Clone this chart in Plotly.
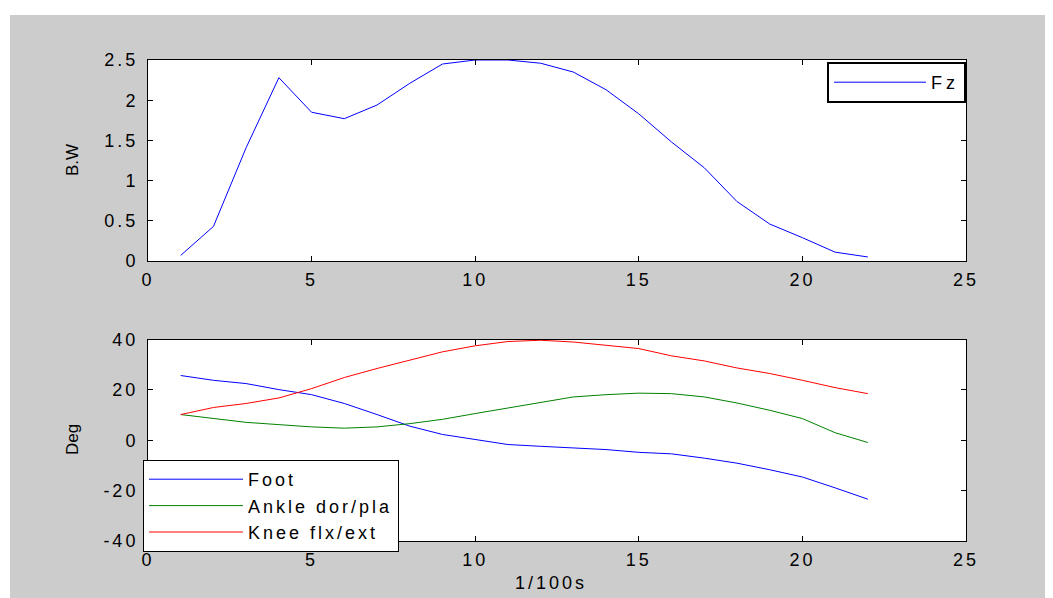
import plotly.graph_objects as go

frames = list(range(1, 23))
fz = [0.07, 0.43, 1.41, 2.28, 1.85, 1.77, 1.94, 2.21, 2.45, 2.50, 2.50,
      2.46, 2.35, 2.13, 1.83, 1.48, 1.16, 0.74, 0.46, 0.29, 0.11, 0.05]
foot = [25.7, 23.8, 22.5, 20.1, 18.1, 14.6, 10.2, 5.6, 2.3, 0.3, -1.7,
        -2.4, -3.0, -3.7, -4.8, -5.4, -7.1, -9.1, -11.7, -14.6, -18.9, -23.4]
ankle = [10.2, 8.6, 7.1, 6.2, 5.3, 4.8, 5.3, 6.6, 8.3, 10.6, 12.8,
         15.2, 17.2, 18.1, 18.7, 18.5, 17.2, 14.8, 11.9, 8.6, 3.0, -0.9]
knee = [10.2, 13.0, 14.6, 16.8, 20.5, 24.9, 28.5, 31.8, 35.1, 37.5, 39.2,
        39.7, 39.0, 37.7, 36.4, 33.5, 31.5, 28.7, 26.5, 23.8, 20.9, 18.5]

x_tick_vals = [0, 5, 10, 15, 20, 25]
x_tick_text = ["0", "5", "10", "15", "20", "25"]
fz_tick_vals = [0, 0.5, 1, 1.5, 2, 2.5]
fz_tick_text = ["0", "0.5", "1", "1.5", "2", "2.5"]
deg_tick_vals = [-40, -20, 0, 20, 40]
deg_tick_text = ["-40", "-20", "0", "20", "40"]

# page has an 8px body margin; work in page pixel coordinates
OX, OY = 8, 8
PAGE_W, PAGE_H = 1053, 598
W, H = PAGE_W - OX, PAGE_H - OY
PL, PR, PT, PB = 148, 966, 60, 541        # plot area in page px
L, R, T, B = PL - OX, PAGE_W - PR, PT - OY, PAGE_H - PB
pw, ph = W - L - R, H - T - B


def px_x(x):
    return (x - PL) / pw


def px_y(y):
    return (PB - y) / ph


def spaced(s, px=3):
    return '<span style="letter-spacing:%dpx">%s</span>' % (px, s)


fig = go.Figure()
fig.add_trace(go.Scatter(x=frames, y=fz, mode="lines", name=spaced("Fz", 4), xaxis="x", yaxis="y",
                         line=dict(color="#0000FF", width=1), legend="legend"))
fig.add_trace(go.Scatter(x=frames, y=foot, mode="lines", name=spaced("Foot"), xaxis="x2", yaxis="y2",
                         line=dict(color="#0000FF", width=1), legend="legend2"))
fig.add_trace(go.Scatter(x=frames, y=ankle, mode="lines", name=spaced("Ankle dor/pla"), xaxis="x2", yaxis="y2",
                         line=dict(color="#008000", width=1), legend="legend2"))
fig.add_trace(go.Scatter(x=frames, y=knee, mode="lines", name=spaced("Knee flx/ext"), xaxis="x2", yaxis="y2",
                         line=dict(color="#FF0000", width=1), legend="legend2"))

font = dict(family="Liberation Sans, Arial, sans-serif", color="black")
axis_common = dict(showline=True, linecolor="black", linewidth=1, mirror="ticks",
                   ticks="inside", ticklen=5, tickcolor="black", showgrid=False,
                   zeroline=False, tickfont=dict(size=18, **font))
xcommon = dict(ticklabelstandoff=2, tickmode="array", tickvals=x_tick_vals,
               ticktext=[spaced(t) for t in x_tick_text], **axis_common)
ycommon = dict(ticklabelstandoff=5, **axis_common)

fig.update_layout(
    width=W, height=H,
    margin=dict(l=L, r=R, t=T, b=B, pad=0),
    paper_bgcolor="#CCCCCC", plot_bgcolor="white",
    font=font,
    xaxis=dict(domain=[0, 1], range=[0, 25], anchor="y", **xcommon),
    yaxis=dict(domain=[px_y(261), 1], range=[0, 2.5], anchor="x", tickmode="array",
               tickvals=fz_tick_vals, ticktext=[spaced(t) for t in fz_tick_text], **ycommon),
    xaxis2=dict(domain=[0, 1], range=[0, 25], anchor="y2", **xcommon),
    yaxis2=dict(domain=[0, px_y(339.5)], range=[-40, 40], anchor="x2", tickmode="array",
                tickvals=deg_tick_vals, ticktext=[spaced(t) for t in deg_tick_text], **ycommon),
    legend=dict(x=1, xanchor="right", y=px_y(62), yanchor="top",
                bgcolor="white", bordercolor="black", borderwidth=2,
                font=dict(size=18, **font), itemwidth=92),
    legend2=dict(x=px_x(143), xanchor="left", y=px_y(460), yanchor="top",
                 bgcolor="white", bordercolor="black", borderwidth=1,
                 font=dict(size=18, **font), itemwidth=94, tracegroupgap=0),
    showlegend=True,
    annotations=[
        dict(text="B.W", xref="paper", yref="paper", x=px_x(72), y=px_y(160),
             xanchor="center", yanchor="middle", textangle=-90, showarrow=False,
             font=dict(size=17, **font)),
        dict(text="Deg", xref="paper", yref="paper", x=px_x(72), y=px_y(440),
             xanchor="center", yanchor="middle", textangle=-90, showarrow=False,
             font=dict(size=17, **font)),
        dict(text=spaced("1/100s"), xref="paper", yref="paper", x=px_x(551), y=px_y(583),
             xanchor="center", yanchor="middle", showarrow=False,
             font=dict(size=18, **font)),
    ],
)

# white outer border strips (top and left) beyond the 8px page margin
fig.add_shape(type="rect", xref="paper", yref="paper",
              x0=px_x(OX) - 0.01, x1=px_x(10), y0=px_y(PAGE_H) - 0.01, y1=px_y(OY) + 0.01,
              fillcolor="white", line=dict(width=0), layer="above")
fig.add_shape(type="rect", xref="paper", yref="paper",
              x0=px_x(OX) - 0.01, x1=px_x(PAGE_W) + 0.01, y0=px_y(15), y1=px_y(OY) + 0.01,
              fillcolor="white", line=dict(width=0), layer="above")

fig.write_html("out.html")
